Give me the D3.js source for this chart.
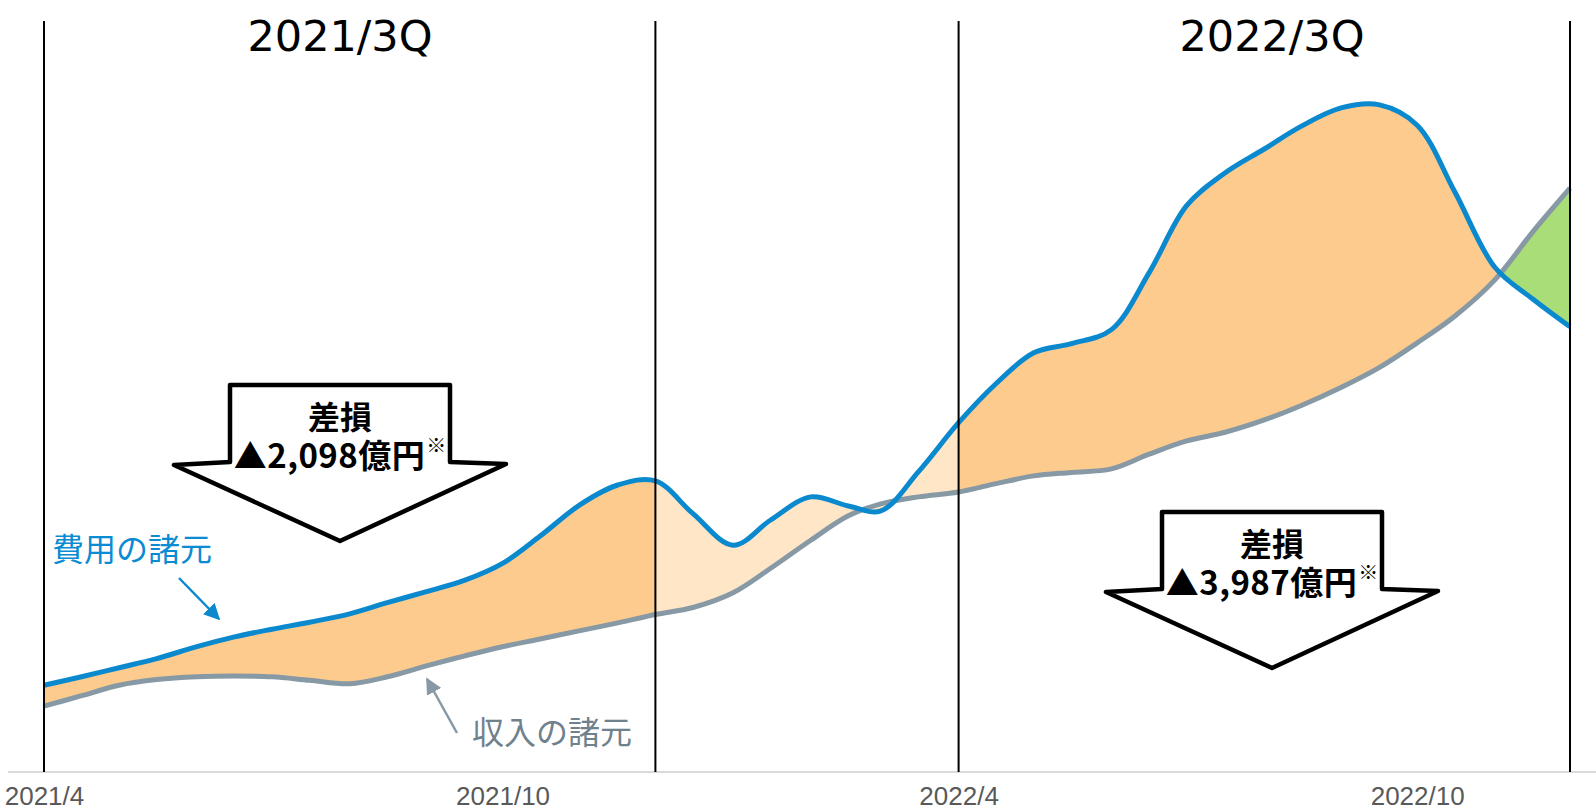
<!DOCTYPE html>
<html>
<head>
<meta charset="utf-8">
<script src="https://cdn.jsdelivr.net/npm/d3@7"></script>
<style>
body{margin:0;background:#fff;}
</style>
</head>
<body>
<div id="chart"></div>
<script>
// half-month readings of the two curves (arbitrary index)
var dates = ["2021-04-01","2021-04-16","2021-05-01","2021-05-16","2021-06-01","2021-06-16",
	"2021-07-01","2021-07-16","2021-08-01","2021-08-16","2021-09-01","2021-09-16",
	"2021-10-01","2021-10-16","2021-11-01","2021-11-16","2021-12-01","2021-12-16",
	"2022-01-01","2022-01-16","2022-02-01","2022-02-16","2022-03-01","2022-03-16",
	"2022-04-01","2022-04-16","2022-05-01","2022-05-16","2022-06-01","2022-06-16",
	"2022-07-01","2022-07-16","2022-08-01","2022-08-16","2022-09-01","2022-09-16",
	"2022-10-01","2022-10-16","2022-11-01","2022-11-16","2022-12-01"];
var cost = [12.4,13.6,14.9,16.2,17.9,19.3,20.4,21.4,22.6,24.2,25.8,27.4,
	29.8,33.7,38.2,41.0,41.6,36.9,32.4,36.0,39.3,38.0,37.3,42.9,
	49.9,55.5,59.9,61.2,63.2,71.3,80.9,85.5,89.0,92.3,94.9,95.3,
	92.4,82.9,72.1,67.6,63.6];
var revenue = [9.4,10.9,12.4,13.2,13.6,13.7,13.6,13.1,12.6,13.6,15.2,16.6,
	17.9,19.0,20.2,21.3,22.5,23.5,25.6,29.1,33.1,36.6,38.3,39.3,
	40.0,41.2,42.3,42.8,43.3,45.4,47.3,48.5,50.3,52.4,55.0,57.8,
	61.3,65.1,70.3,77.1,83.4];

var dividers = ["2021-04-01","2021-12-01","2022-04-01","2022-12-01"];
var periodFills = ["#fdcb8e","#fee6c6","#fdcb8e"];
var tickDates = ["2021-04-01","2021-10-01","2022-04-01","2022-10-01"];
var tickLabels = ["2021/4","2021/10","2022/4","2022/10"];
var quarterLabels = ["2021/3Q","2022/3Q"];
var lossTitle = ["差損","差損"];
var lossValues = ["▲2,098億円","▲3,987億円"];
var seriesNames = ["費用の諸元","収入の諸元"];

var W = 1596, H = 811;
var costColor = "#0a89cf", revColor = "#8699a5", gainColor = "#a8dd77";

var parse = d3.timeParse("%Y-%m-%d");
var pts = dates.map(function(d,i){ return {date:parse(d), cost:cost[i], rev:revenue[i]}; });

var x = d3.scaleTime()
	.domain([parse(dividers[0]), parse(dividers[dividers.length-1])])
	.range([44, 1570]);
var y = d3.scaleLinear()
	.domain([0, 100])
	.range([772, 72]);
var curve = d3.curveCatmullRom.alpha(0.5);

var svg = d3.select("#chart").append("svg")
	.attr("width", W)
	.attr("height", H);
var defs = svg.append("defs");

// one clip per period
for (var i = 0; i < dividers.length-1; i++) {
	var x0 = x(parse(dividers[i])), x1 = x(parse(dividers[i+1]));
	defs.append("clipPath").attr("id","sec"+i)
		.append("rect")
		.attr("x", x0).attr("y", 0)
		.attr("width", x1-x0).attr("height", H);
}

var band = d3.area()
	.curve(curve)
	.x(function(d){ return x(d.date); })
	.y0(function(d){ return y(d.rev); })
	.y1(function(d){ return y(d.cost); });

// everything above the cost curve : where revenue exceeds cost
var aboveCost = d3.area()
	.curve(curve)
	.x(function(d){ return x(d.date); })
	.y0(0)
	.y1(function(d){ return y(d.cost); });
defs.append("clipPath").attr("id","aboveCost")
	.append("path").attr("d", aboveCost(pts));

periodFills.forEach(function(c,i){
	svg.append("g").attr("clip-path","url(#sec"+i+")")
		.append("path")
		.attr("d", band(pts))
		.attr("fill", c);
});

svg.append("g").attr("clip-path","url(#sec2)")
	.append("path")
	.attr("clip-path","url(#aboveCost)")
	.attr("d", band(pts))
	.attr("fill", gainColor);

// base line
svg.append("line")
	.attr("x1", 8).attr("x2", W)
	.attr("y1", y(0)).attr("y2", y(0))
	.attr("stroke", "#d9d9d9")
	.attr("stroke-width", 2);

var line = function(key){
	return d3.line()
		.curve(curve)
		.x(function(d){ return x(d.date); })
		.y(function(d){ return y(d[key]); });
};

svg.append("path")
	.datum(pts)
	.attr("fill","none")
	.attr("stroke", revColor)
	.attr("stroke-width", 5)
	.attr("d", line("rev"));

svg.append("path")
	.datum(pts)
	.attr("fill","none")
	.attr("stroke", costColor)
	.attr("stroke-width", 5)
	.attr("d", line("cost"));

// period dividers
svg.selectAll(".divider")
	.data(dividers)
	.enter().append("line")
	.attr("class","divider")
	.attr("x1", function(d){ return x(parse(d)); })
	.attr("x2", function(d){ return x(parse(d)); })
	.attr("y1", 21)
	.attr("y2", y(0))
	.attr("stroke", "#000")
	.attr("stroke-width", 2);

// x axis, labels only
var axis = svg.append("g")
	.attr("transform","translate(0,"+y(0)+")")
	.call(d3.axisBottom(x)
		.tickValues(tickDates.map(parse))
		.tickFormat(function(d,i){ return tickLabels[i]; })
		.tickSize(0));
axis.select(".domain").remove();
axis.selectAll("text")
	.attr("y", 33)
	.attr("dy", 0)
	.attr("fill", "#595959")
	.style("font-family", "'Liberation Sans Narrow','Arial Narrow',sans-serif")
	.style("font-size", "26px");

// big loss arrows, one per quarter
var lossPos = [{cx:340, top:385}, {cx:1272, top:512}];

quarterLabels.forEach(function(t,i){
	svg.append("text")
		.attr("x", lossPos[i].cx)
		.attr("y", 51)
		.attr("text-anchor","middle")
		.style("font-family","'DejaVu Sans',Verdana,sans-serif")
		.style("font-size","43px")
		.attr("fill","#000")
		.text(t);
});

lossPos.forEach(function(p,i){
	var bw = 110, ww = 166;
	var pth = d3.path();
	pth.moveTo(p.cx-bw, p.top);
	pth.lineTo(p.cx+bw, p.top);
	pth.lineTo(p.cx+bw, p.top+77);
	pth.lineTo(p.cx+ww, p.top+79);
	pth.lineTo(p.cx, p.top+156);
	pth.lineTo(p.cx-ww, p.top+80);
	pth.lineTo(p.cx-bw, p.top+77);
	pth.closePath();
	svg.append("path")
		.attr("d", pth.toString())
		.attr("fill","#fff")
		.attr("stroke","#000")
		.attr("stroke-width",4.5)
		.attr("stroke-linejoin","round");

	svg.append("text")
		.attr("x", p.cx)
		.attr("y", p.top+44)
		.attr("text-anchor","middle")
		.style("font-family","'Noto Sans CJK JP',sans-serif")
		.style("font-weight","700")
		.style("font-size","32px")
		.text(lossTitle[i]);

	var t = svg.append("text")
		.attr("x", p.cx)
		.attr("y", p.top+83)
		.attr("text-anchor","middle")
		.style("font-family","'Noto Sans CJK JP',sans-serif")
		.style("font-weight","700")
		.style("font-size","33px");
	t.append("tspan")
		.style("letter-spacing","0.5px")
		.text(lossValues[i]);
	t.append("tspan")
		.attr("dy", -15)
		.attr("dx", 1)
		.style("font-size","20px")
		.style("font-weight","400")
		.text("※");
});

// series labels with pointer arrows
var markers = [costColor, revColor];
markers.forEach(function(c,i){
	defs.append("marker")
		.attr("id","head"+i)
		.attr("viewBox","0 0 10 10")
		.attr("refX",9).attr("refY",5)
		.attr("markerWidth",6.5).attr("markerHeight",6.5)
		.attr("markerUnits","strokeWidth")
		.attr("orient","auto")
		.append("path")
		.attr("d","M0,0L10,5L0,10Z")
		.attr("fill",c);
});

var seriesLabel = [
	{x:52, y:561, color:"#0b8bd1", from:[179,578], to:[219,619]},
	{x:472, y:744, color:"#6f818d", from:[457,733], to:[427,679]}
];
seriesLabel.forEach(function(s,i){
	svg.append("text")
		.attr("x", s.x)
		.attr("y", s.y)
		.attr("fill", s.color)
		.style("font-family","'Noto Sans CJK JP',sans-serif")
		.style("font-size","32px")
		.text(seriesNames[i]);
	svg.append("line")
		.attr("x1", s.from[0]).attr("y1", s.from[1])
		.attr("x2", s.to[0]).attr("y2", s.to[1])
		.attr("stroke", markers[i])
		.attr("stroke-width", 2.5)
		.attr("marker-end","url(#head"+i+")");
});
</script>
</body>
</html>
